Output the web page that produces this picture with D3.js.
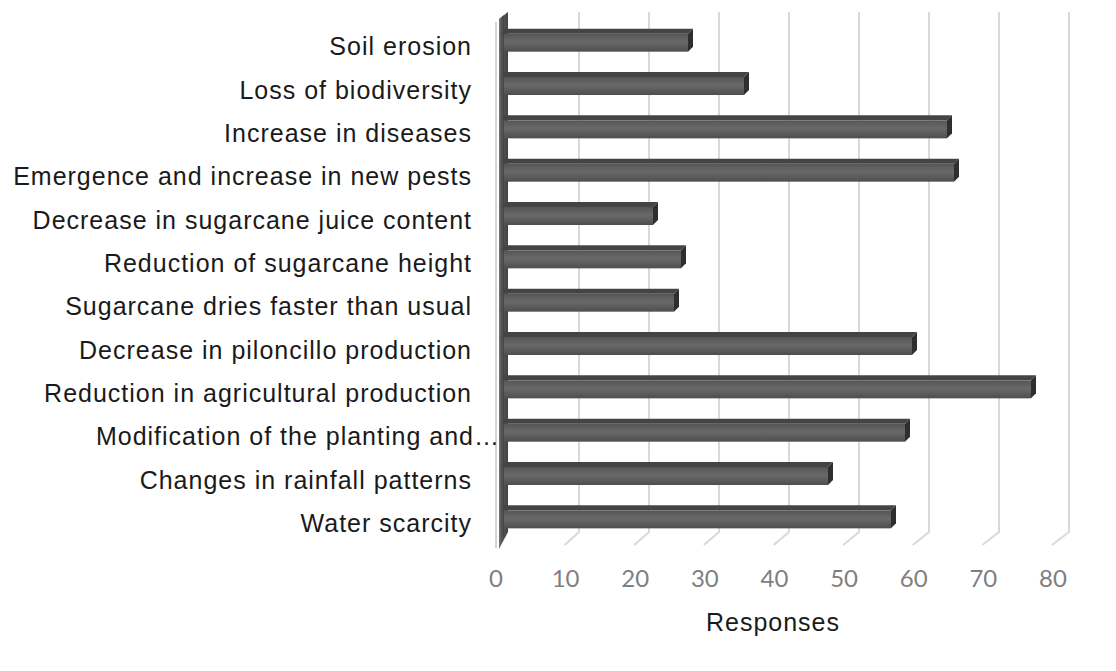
<!DOCTYPE html>
<html>
<head>
<meta charset="utf-8">
<script src="https://cdn.jsdelivr.net/npm/d3@7"></script>
<style>
  body { margin: 0; background: #fff; }
  svg { display: block; }
</style>
</head>
<body>
<div id="chart"></div>
<script>
const categories = [
    "Soil erosion",
    "Loss of biodiversity",
    "Increase in diseases",
    "Emergence and increase in new pests",
    "Decrease in sugarcane juice content",
    "Reduction of sugarcane height",
    "Sugarcane dries faster than usual",
    "Decrease in piloncillo production",
    "Reduction in agricultural production",
    "Modification of the planting and…",
    "Changes in rainfall patterns",
    "Water scarcity"
];
const responses = [27, 35, 64, 65, 22, 26, 25, 59, 76, 58, 47, 56];
const xTicks = [0, 10, 20, 30, 40, 50, 60, 70, 80];
const xTitle = "Responses";

const W = 1116, H = 671;

const svg = d3.select("#chart")
    .append("svg")
    .attr("width", W)
    .attr("height", H);

// back wall scale and front edge of the floor
const x = d3.scaleLinear().domain([0, 80]).range([509, 1069]);
const xFront = d3.scaleLinear().domain([0, 80]).range([496, 1053]);
const y = d3.scaleBand()
    .domain(categories)
    .range([11, 531])
    .paddingInner(0.584)
    .paddingOuter(0.292);

const floorY = 545;
const barD = 5;

const defs = svg.append("defs");
const frontGrad = defs.append("linearGradient")
    .attr("id", "barFront").attr("x1", 0).attr("y1", 0).attr("x2", 0).attr("y2", 1);
frontGrad.append("stop").attr("offset", "0%").attr("stop-color", "#555555");
frontGrad.append("stop").attr("offset", "45%").attr("stop-color", "#696969");
frontGrad.append("stop").attr("offset", "100%").attr("stop-color", "#4e4e4e");

const wallGrad = defs.append("linearGradient")
    .attr("id", "wall").attr("x1", 0).attr("y1", 0).attr("x2", 1).attr("y2", 0);
wallGrad.append("stop").attr("offset", "0%").attr("stop-color", "#7e7e7e");
wallGrad.append("stop").attr("offset", "35%").attr("stop-color", "#585858");
wallGrad.append("stop").attr("offset", "100%").attr("stop-color", "#424242");

const [y0, y1] = y.range();

// gridlines with floor ticks
const grid = svg.append("g");
xTicks.filter(t => t > 0).forEach(t => {
    grid.append("path")
        .attr("d", `M${x(t)},${y0 + 1}V${y1 + 1}L${xFront(t) - 1},${floorY}`)
        .attr("fill", "none")
        .attr("stroke", "#d9d9d9")
        .attr("stroke-width", 2);
});

// side wall at zero
svg.append("path")
    .attr("d", `M${x(0) - 13},${y0 + 11}V${floorY + 3}`)
    .attr("stroke", "#d4d4d4")
    .attr("stroke-width", 2)
    .attr("fill", "none");

svg.append("path")
    .attr("d", `M${x(0) - 10},${y0 + 8}L${x(0) - 1},${y0 + 1}V${y1 + 1}L${x(0) - 10},${floorY + 4}Z`)
    .attr("fill", "url(#wall)");

// bars
const bars = svg.append("g");
categories.forEach((c, i) => {
    const v = responses[i];
    const by = y(c) + barD;           // back face top
    const h = y.bandwidth();
    const bx0 = x(0) - barD;
    const bx1 = x(v) - barD;          // back face right
    const fx0 = bx0 - barD, fx1 = bx1 - barD;
    const fy = by + barD;

    // top face
    bars.append("path")
        .attr("d", `M${fx0},${fy}L${bx0},${by}H${bx1}L${fx1},${fy}Z`)
        .attr("fill", "#444444");
    // end face
    bars.append("path")
        .attr("d", `M${fx1},${fy}L${bx1},${by}V${by + h}L${fx1},${fy + h}Z`)
        .attr("fill", "#2e2e2e");
    // front face
    bars.append("rect")
        .attr("x", fx0)
        .attr("y", fy)
        .attr("width", fx1 - fx0)
        .attr("height", h)
        .attr("fill", "url(#barFront)");
});

// wall strip drawn over the bar roots
svg.append("path")
    .attr("d", `M${x(0) - 10},${y0 + 8}L${x(0) - 5},${y0 + 4}V${y1 + 5}L${x(0) - 10},${floorY + 4}Z`)
    .attr("fill", "url(#wall)")
    .attr("opacity", 0.85);

// category labels
svg.append("g")
    .selectAll("text")
    .data(categories)
    .join("text")
    .attr("x", d => d.endsWith("…") ? 500 : 472)
    .attr("y", d => y(d) + 2 * barD + y.bandwidth() / 2 + 6)
    .attr("text-anchor", "end")
    .attr("dominant-baseline", "middle")
    .attr("font-family", "'Liberation Sans', Arial, sans-serif")
    .attr("font-size", "25px")
    .attr("letter-spacing", "1px")
    .attr("fill", "#1a1a1a")
    .text(d => d);

// tick labels (front edge of the floor)
svg.append("g")
    .selectAll("text")
    .data(xTicks)
    .join("text")
    .attr("x", d => xFront(d))
    .attr("y", 587)
    .attr("text-anchor", "middle")
    .attr("font-family", "Lato, 'Open Sans', sans-serif")
    .attr("font-size", "24px")
    .attr("fill", "#7f7f7f")
    .text(d => d);

// axis title
svg.append("text")
    .attr("x", 773)
    .attr("y", 631)
    .attr("text-anchor", "middle")
    .attr("font-family", "'Liberation Sans', Arial, sans-serif")
    .attr("font-size", "25px")
    .attr("letter-spacing", "1px")
    .attr("fill", "#1a1a1a")
    .text(xTitle);
</script>
</body>
</html>
